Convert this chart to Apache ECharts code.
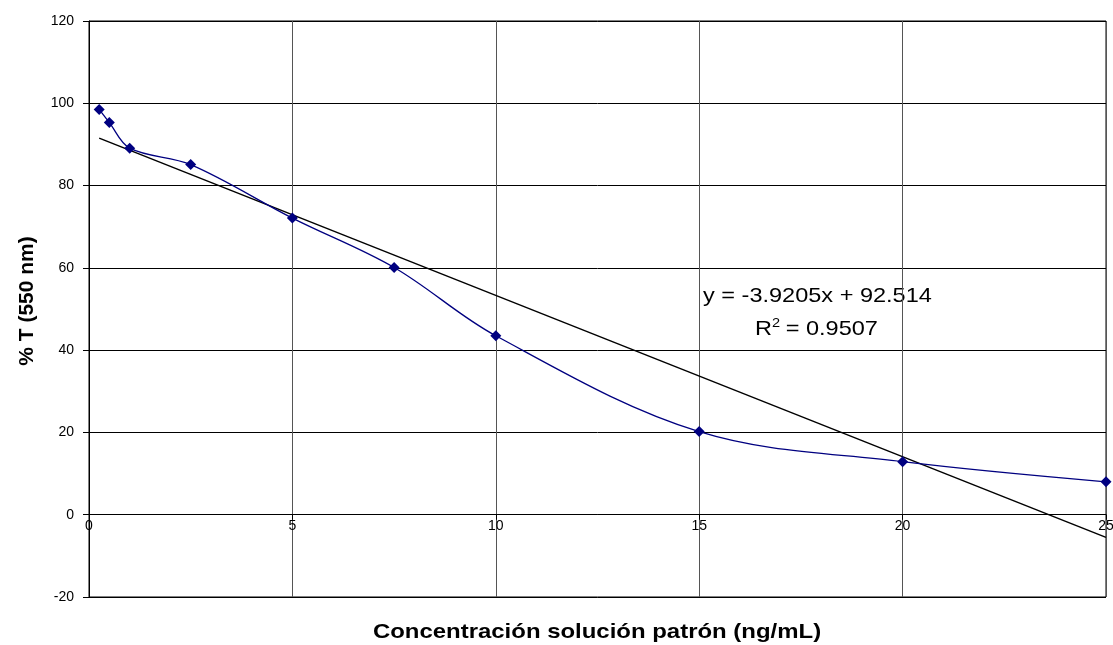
<!DOCTYPE html>
<html><head><meta charset="utf-8">
<script src="https://cdn.jsdelivr.net/npm/echarts@6/dist/echarts.min.js"></script>
<style>html,body{margin:0;padding:0;background:#fff}#c{width:1113px;height:645px}</style>
</head><body><div id="c"></div>
<script>
var concX = [0.25, 0.5, 1, 2.5, 5, 7.5, 10, 15, 20, 25];
var percentT = [98.5, 95.3, 89.1, 85.1, 72.1, 60.1, 43.5, 20.2, 12.9, 8.0];
var trendX = [0.25, 25];
var trendY = [91.53, -5.5];
var xTicks = [0, 5, 10, 15, 20, 25];
var yTicks = [-20, 0, 20, 40, 60, 80, 100, 120];
var eqText = 'y = -3.9205x + 92.514';
var r2Value = '0.9507';
var xTitle = 'Concentración solución patrón (ng/mL)';
var yTitle = '% T (550 nm)';

var gridTop = 21, gridBottom = 48, H = 645;
var plotH = H - gridTop - gridBottom;
var zeroOffset = -plotH * (0 - yTicks[0]) / (yTicks[yTicks.length - 1] - yTicks[0]);

var chart = echarts.init(document.getElementById('c'));
var font = 'Liberation Sans, Arial, sans-serif';
var stretch = 1.14;
chart.setOption({
  animation: false,
  grid: {left: 89, right: 7, top: gridTop, bottom: gridBottom, show: true, borderColor: '#000', borderWidth: 1,
         outerBoundsMode: 'none', containLabel: false},
  xAxis: {
    type: 'value', min: xTicks[0], max: xTicks[xTicks.length - 1], interval: 5,
    offset: zeroOffset,
    axisLine: {onZero: false, lineStyle: {color: '#000', width: 1}},
    axisTick: {show: true, length: 5, lineStyle: {color: '#000'}},
    axisLabel: {color: '#000', fontFamily: font, fontSize: 14, margin: 4},
    splitLine: {show: true, lineStyle: {color: '#555', width: 1}}
  },
  yAxis: {
    type: 'value', min: yTicks[0], max: yTicks[yTicks.length - 1], interval: 20,
    axisLine: {onZero: false, lineStyle: {color: '#000', width: 1}},
    axisTick: {show: true, length: 6, lineStyle: {color: '#000'}},
    axisLabel: {color: '#000', fontFamily: font, fontSize: 14, margin: 15},
    splitLine: {show: true, lineStyle: {color: '#000', width: 1}}
  },
  series: [
    {
      type: 'line', smooth: 0.35,
      data: concX.map(function (x, i) { return [x, percentT[i]]; }),
      symbol: 'diamond', symbolSize: 11,
      itemStyle: {color: '#000080'},
      lineStyle: {color: '#000080', width: 1.3},
      z: 3
    },
    {
      type: 'line', smooth: false, symbol: 'none',
      data: trendX.map(function (x, i) { return [x, trendY[i]]; }),
      lineStyle: {color: '#000', width: 1.5},
      z: 2
    }
  ],
  graphic: [
    {type: 'text', x: 597, y: 632, scaleX: stretch, style: {text: xTitle, font: 'bold 21px Liberation Sans, Arial, sans-serif', fill: '#000', align: 'center', verticalAlign: 'middle'}},
    {type: 'text', x: 27, y: 301, rotation: Math.PI / 2, style: {text: yTitle, font: 'bold 21px Liberation Sans, Arial, sans-serif', fill: '#000', align: 'center', verticalAlign: 'middle'}},
    {type: 'text', x: 703, y: 296, scaleX: 1.12, style: {text: eqText, font: '21px Liberation Sans, Arial, sans-serif', fill: '#000', align: 'left', verticalAlign: 'middle'}},
    {type: 'text', x: 755, y: 328, scaleX: 1.12, style: {
      text: '{a|R}{s|2}{a|= ' + r2Value + '}', verticalAlign: 'middle', align: 'left',
      rich: {
        a: {fontFamily: font, fontSize: 21, fill: '#000', color: '#000', verticalAlign: 'bottom'},
        s: {fontFamily: font, fontSize: 13, fill: '#000', color: '#000', verticalAlign: 'top', padding: [0, 5, 10, 0]}
      }
    }}
  ]
});
</script></body></html>
